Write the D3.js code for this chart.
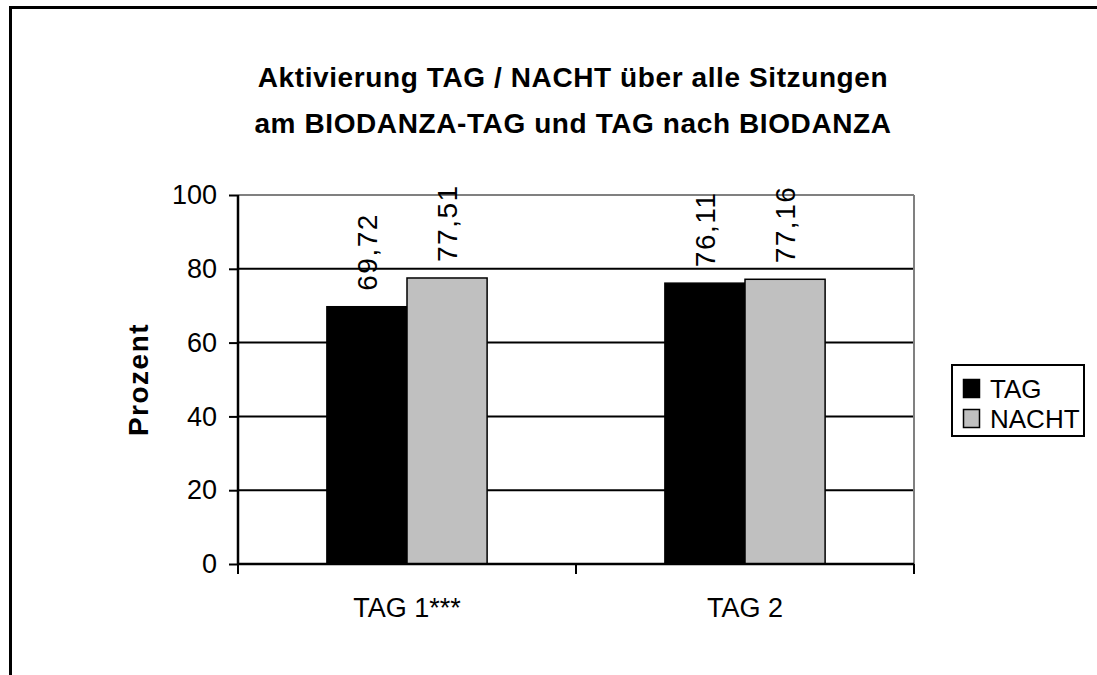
<!doctype html>
<html lang="de">
<head>
<meta charset="UTF-8" />
<title>Aktivierung TAG / NACHT</title>
<script src="https://d3js.org/d3.v7.min.js"></script>
<style>
  html, body { margin: 0; background: #fff; overflow: hidden; }
  svg { display: block; font-family: Arial, "Liberation Sans", sans-serif; }
</style>
</head>
<body>
<div id="chart"></div>
<script>
var categories = ['TAG 1***', 'TAG 2'];
var seriesNames = ['TAG', 'NACHT'];
var tagValues = [69.72, 76.11];
var nachtValues = [77.51, 77.16];
var yTicks = [0, 20, 40, 60, 80, 100];
var titleLines = ['Aktivierung TAG / NACHT über alle Sitzungen', 'am BIODANZA-TAG und TAG nach BIODANZA'];

var canvasWidth = 1097;
var canvasHeight = 675;
var colors = { TAG: '#000000', NACHT: '#c0c0c0' };

var s = d3.select('#chart')
    .append('svg')
    .attr('width', canvasWidth)
    .attr('height', canvasHeight);

// outer frame: only top and left edges show in the original
s.append('path')
    .attr('d', 'M10.5,' + canvasHeight + 'V7.5H' + canvasWidth)
    .attr('fill', 'none')
    .attr('stroke', '#000')
    .attr('stroke-width', 3);

s.selectAll('.title')
    .data(titleLines)
    .enter()
    .append('text')
    .attr('class', 'title')
    .attr('x', 573)
    .attr('y', (d, i) => 87 + i * 46)
    .attr('text-anchor', 'middle')
    .attr('font-size', '28px')
    .attr('font-weight', 'bold')
    .attr('letter-spacing', '0.6px')
    .text(d => d);

var plotL = 238, plotR = 914, plotT = 195, plotB = 564;

var x0 = d3.scaleBand().domain(categories).range([plotL, plotR]);
var x1 = d3.scaleBand().domain(seriesNames)
    .range([x0.bandwidth() * 0.263, x0.bandwidth() * 0.737]);
var y = d3.scaleLinear().domain([0, 100]).range([plotB, plotT]);

var data = categories.map((c, i) => ({
    cat: c,
    vals: [
        { name: 'TAG', value: tagValues[i] },
        { name: 'NACHT', value: nachtValues[i] }
    ]
}));

// gridlines
s.append('g')
    .selectAll('line')
    .data(yTicks.filter(d => d > 0))
    .enter()
    .append('line')
    .attr('x1', plotL)
    .attr('x2', plotR)
    .attr('y1', d => y(d))
    .attr('y2', d => y(d))
    .attr('stroke', d => d === 100 ? '#808080' : '#000')
    .attr('stroke-width', 2);

// right border of plot area
s.append('line')
    .attr('x1', plotR)
    .attr('x2', plotR)
    .attr('y1', plotT)
    .attr('y2', plotB)
    .attr('stroke', '#808080')
    .attr('stroke-width', 2);

// bars
var groups = s.selectAll('.grp')
    .data(data)
    .enter()
    .append('g')
    .attr('class', 'grp')
    .attr('transform', d => 'translate(' + x0(d.cat) + ',0)');

groups.selectAll('rect')
    .data(d => d.vals)
    .enter()
    .append('rect')
    .attr('x', d => x1(d.name))
    .attr('y', d => y(d.value))
    .attr('width', x1.bandwidth())
    .attr('height', d => plotB - y(d.value))
    .attr('fill', d => colors[d.name])
    .attr('stroke', '#000')
    .attr('stroke-width', 1.5);

groups.selectAll('.lbl')
    .data(d => d.vals)
    .enter()
    .append('text')
    .attr('class', 'lbl')
    .attr('transform', d => 'translate(' + (x1(d.name) + x1.bandwidth() / 2 + 10) + ',' + (y(d.value) - 16) + ') rotate(-90)')
    .attr('font-size', '28px')
    .attr('letter-spacing', '1.5px')
    .text(d => d3.format('.2f')(d.value).replace('.', ','));

// y axis
var yAxis = s.append('g')
    .attr('transform', 'translate(' + plotL + ',0)')
    .call(d3.axisLeft(y).tickValues(yTicks).tickSize(9).tickPadding(12));
yAxis.select('.domain').attr('stroke-width', 2.5).attr('d', 'M0,' + plotT + 'V' + plotB);
yAxis.selectAll('.tick line').attr('stroke-width', 2);
yAxis.selectAll('.tick text')
    .attr('font-size', '27px')
    .attr('font-family', 'Arial, "Liberation Sans", sans-serif')
    .attr('fill', '#000');

// x axis
var xAxis = s.append('g')
    .attr('transform', 'translate(0,' + plotB + ')')
    .call(d3.axisBottom(x0).tickSize(0).tickPadding(34));
xAxis.select('.domain').attr('stroke-width', 2.5).attr('d', 'M' + plotL + ',0H' + plotR);
xAxis.selectAll('.tick text')
    .attr('font-size', '27px')
    .attr('font-family', 'Arial, "Liberation Sans", sans-serif')
    .attr('fill', '#000');

var boundaries = categories.map(c => x0(c)).concat([x0(categories[categories.length - 1]) + x0.bandwidth()]);
xAxis.selectAll('.bnd')
    .data(boundaries)
    .enter()
    .append('line')
    .attr('class', 'bnd')
    .attr('x1', d => d)
    .attr('x2', d => d)
    .attr('y1', 0)
    .attr('y2', 10)
    .attr('stroke', '#000')
    .attr('stroke-width', 2);

// y axis title
s.append('text')
    .attr('transform', 'translate(148,' + ((plotT + plotB) / 2) + ') rotate(-90)')
    .attr('text-anchor', 'middle')
    .attr('font-size', '28px')
    .attr('font-weight', 'bold')
    .attr('letter-spacing', '1.5px')
    .text('Prozent');

// legend
var legend = s.append('g').attr('transform', 'translate(952,365)');
legend.append('rect')
    .attr('width', 132)
    .attr('height', 71)
    .attr('fill', '#fff')
    .attr('stroke', '#000')
    .attr('stroke-width', 2);
var li = legend.selectAll('.li')
    .data(seriesNames)
    .enter()
    .append('g')
    .attr('class', 'li')
    .attr('transform', (d, i) => 'translate(0,' + (i * 30) + ')');
li.append('rect')
    .attr('x', 11.5)
    .attr('y', 14.5)
    .attr('width', 16)
    .attr('height', 18)
    .attr('fill', d => colors[d])
    .attr('stroke', '#000')
    .attr('stroke-width', 1.5);
li.append('text')
    .attr('x', 38)
    .attr('y', 33)
    .attr('font-size', '26px')
    .text(d => d);
</script>
</body>
</html>
